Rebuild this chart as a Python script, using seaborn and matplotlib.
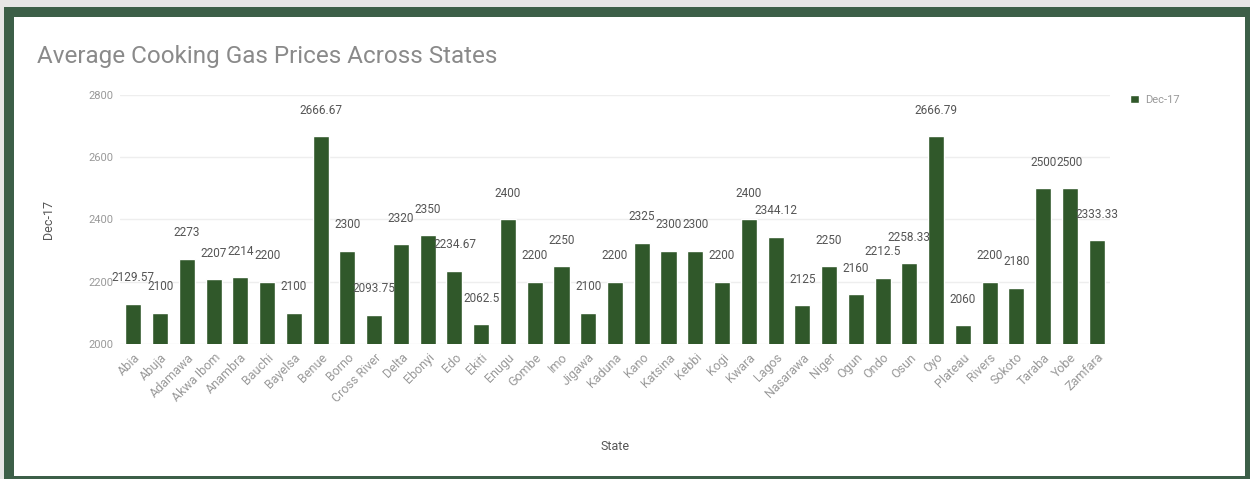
import matplotlib
matplotlib.use("Agg")
import matplotlib.pyplot as plt
import seaborn as sns
import pandas as pd
from matplotlib.patches import Rectangle

# data
states = ["Abia", "Abuja", "Adamawa", "Akwa Ibom", "Anambra", "Bauchi", "Bayelsa",
          "Benue", "Borno", "Cross River", "Delta", "Ebonyi", "Edo", "Ekiti", "Enugu",
          "Gombe", "Imo", "Jigawa", "Kaduna", "Kano", "Katsina", "Kebbi", "Kogi",
          "Kwara", "Lagos", "Nasarawa", "Niger", "Ogun", "Ondo", "Osun", "Oyo",
          "Plateau", "Rivers", "Sokoto", "Taraba", "Yobe", "Zamfara"]
dec17 = [2129.57, 2100, 2273, 2207, 2214, 2200, 2100,
         2666.67, 2300, 2093.75, 2320, 2350, 2234.67, 2062.5, 2400,
         2200, 2250, 2100, 2200, 2325, 2300, 2300, 2200,
         2400, 2344.12, 2125, 2250, 2160, 2212.5, 2258.33, 2666.79,
         2060, 2200, 2180, 2500, 2500, 2333.33]
y_ticks = [2000, 2200, 2400, 2600, 2800]

df = pd.DataFrame({"State": states, "Dec-17": dec17})

sns.set_style("white")
plt.rcParams['font.family'] = ['Roboto', 'DejaVu Sans']

bar_col = '#30582a'
frame_col = '#3c5f48'

fig = plt.figure(figsize=(12.5, 4.79), dpi=100)
fig.patch.set_facecolor('#e6e6e6')
# green frame + white card
fig.patches.append(Rectangle((4 / 1250, 0), 1 - 4 / 1250, 1 - 7 / 479,
                             transform=fig.transFigure, facecolor=frame_col,
                             edgecolor='none', zorder=-2))
fig.patches.append(Rectangle((14 / 1250, 3 / 479), (1245 - 14) / 1250, (462 - 3) / 479,
                             transform=fig.transFigure, facecolor='white',
                             edgecolor='none', zorder=-1))

ax = fig.add_axes([0.096, 0.282, 0.792, 0.52])
ax.set_facecolor('none')
sns.barplot(data=df, x="State", y="Dec-17", color=bar_col, width=0.6,
            saturation=1, ax=ax, label="Dec-17", zorder=3)

ax.set_ylim(2000, 2800)
ax.set_yticks(y_ticks)
ax.set_yticklabels([str(t) for t in y_ticks], fontsize=8, color='#999999')
ax.set_xlim(-0.5, len(states) - 0.5)
ax.tick_params(axis='both', length=0, pad=5)
plt.setp(ax.get_xticklabels(), rotation=45, ha='right', rotation_mode='anchor',
         fontsize=9, color='#999999')
ax.grid(axis='y', color='#eeeeee', linewidth=1, zorder=0)
sns.despine(ax=ax, left=True, bottom=True)

labels = [f"{v:g}" for v in dec17]
ax.bar_label(ax.containers[0], labels=labels, padding=14, fontsize=8.5,
             color='#555555')

ax.set_xlabel("State", fontsize=9, color='#555555', labelpad=25)
ax.set_ylabel("Dec-17", fontsize=9, color='#555555', labelpad=24)

leg = ax.legend(loc='upper left', bbox_to_anchor=(1.01, 1.04), frameon=False,
                fontsize=8, handlelength=0.8, handleheight=0.8, handletextpad=0.6)
for t in leg.get_texts():
    t.set_color('#999999')

fig.text(37 / 1250, 1 - 57 / 479, "Average Cooking Gas Prices Across States",
         fontsize=17.5, color='#8a8a8a', va='center', ha='left')

fig.savefig("out.png", dpi=100, facecolor=fig.get_facecolor())
plt.close(fig)
